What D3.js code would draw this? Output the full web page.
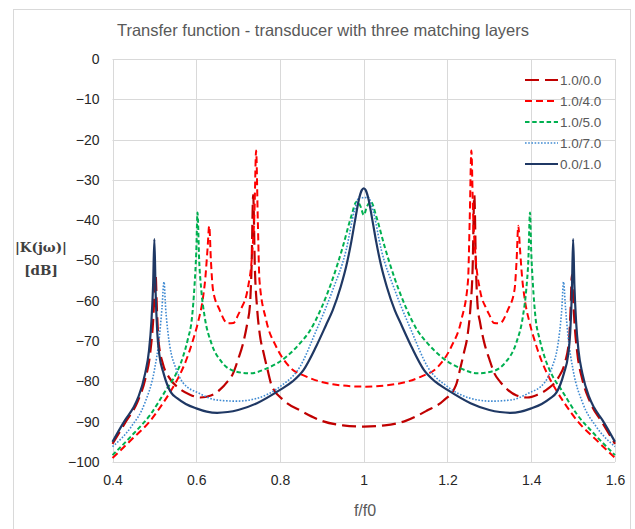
<!DOCTYPE html>
<html>
<head>
<meta charset="utf-8">
<script src="https://cdn.jsdelivr.net/npm/d3@7"></script>
<style>
  html, body { margin: 0; padding: 0; background: #ffffff; }
  svg { display: block; }
</style>
</head>
<body>
<svg id="chart" width="635" height="529"></svg>
<script>
// ---------------- data ----------------
const title = "Transfer function - transducer with three matching layers";
const xTicks = [0.4, 0.6, 0.8, 1.0, 1.2, 1.4, 1.6];
const xTickLabels = ["0.4", "0.6", "0.8", "1", "1.2", "1.4", "1.6"];
const yTicks = [0, -10, -20, -30, -40, -50, -60, -70, -80, -90, -100];
const yTickLabels = ["0", "\u221210", "\u221220", "\u221230", "\u221240", "\u221250", "\u221260", "\u221270", "\u221280", "\u221290", "\u2212100"];
const seriesNames = ["1.0/0.0", "1.0/4.0", "1.0/5.0", "1.0/7.0", "0.0/1.0"];

// 1.0/0.0
const f_10_00 = [0.40,0.43,0.46,0.478,0.49,0.497,0.501,0.503,0.506,0.51,0.52,0.535,0.56,0.585,0.61,0.635,0.656,0.675,0.688,0.70,0.712,0.722,0.728,0.732,0.736,0.740,0.745,0.752,0.761,0.770,0.78,0.81,0.85,0.90,0.95,1.00,
  1.05,1.10,1.15,1.19,1.22,1.23,1.239,1.248,1.255,1.26,1.264,1.268,1.272,1.278,1.288,1.30,1.312,1.325,1.344,1.365,1.39,1.415,1.44,1.465,1.48,1.49,1.494,1.497,1.499,1.503,1.51,1.522,1.54,1.57,1.60];
const db_10_00 = [-95.5,-90.3,-85.0,-79.5,-73.0,-65.0,-57.0,-53.6,-62.0,-70.0,-75.5,-79.0,-81.8,-83.3,-84.0,-83.5,-82.1,-80.0,-78.0,-74.5,-70.5,-65.5,-61.4,-52.0,-33.7,-52.0,-61.4,-68.5,-73.0,-77.0,-81.0,-84.8,-87.3,-89.8,-90.9,-91.2,
  -90.9,-89.8,-87.3,-84.8,-81.0,-77.0,-73.0,-68.5,-61.4,-52.0,-33.7,-52.0,-61.4,-65.5,-70.5,-74.5,-78.0,-80.0,-82.1,-83.5,-84.0,-83.3,-81.8,-79.0,-75.5,-70.0,-62.0,-53.6,-57.0,-65.0,-73.0,-79.5,-85.0,-90.3,-95.5];

// 1.0/4.0
const f_10_40 = [0.40,0.445,0.49,0.52,0.541,0.56,0.575,0.59,0.605,0.615,0.622,0.627,0.631,0.635,0.64,0.656,0.675,0.689,0.70,0.707,0.723,0.733,0.739,0.743,0.747,0.751,0.767,0.791,0.823,0.863,0.926,1.00,
  1.074,1.137,1.177,1.209,1.233,1.249,1.253,1.257,1.261,1.267,1.277,1.293,1.30,1.311,1.325,1.344,1.36,1.365,1.369,1.373,1.378,1.385,1.395,1.41,1.425,1.44,1.459,1.48,1.51,1.555,1.60];
const db_10_40 = [-99.0,-94.5,-89.8,-85.5,-82.1,-78.5,-75.0,-70.5,-65.0,-60.0,-54.0,-47.0,-41.4,-50.0,-57.3,-62.3,-65.6,-65.5,-63.5,-62.0,-57.0,-49.0,-38.0,-22.7,-40.0,-55.0,-64.8,-71.4,-76.4,-78.8,-80.7,-81.3,
  -80.7,-78.8,-76.4,-71.4,-64.8,-55.0,-40.0,-22.7,-38.0,-49.0,-57.0,-62.0,-63.5,-65.5,-65.6,-62.3,-57.3,-50.0,-41.4,-47.0,-54.0,-60.0,-65.0,-70.5,-75.0,-78.5,-82.1,-85.5,-89.8,-94.5,-99.0];

// 1.0/5.0
const f_10_50 = [0.40,0.45,0.49,0.528,0.55,0.568,0.58,0.59,0.596,0.60,0.603,0.607,0.612,0.62,0.636,0.66,0.696,0.728,0.768,0.815,0.848,0.871,0.90,0.926,0.95,0.97,0.983,0.992,1.00,
  1.008,1.017,1.03,1.05,1.074,1.10,1.129,1.152,1.185,1.232,1.272,1.304,1.34,1.364,1.38,1.388,1.393,1.397,1.40,1.404,1.41,1.42,1.432,1.45,1.472,1.51,1.55,1.60];
const db_10_50 = [-98.3,-93.0,-88.3,-82.1,-78.5,-74.0,-69.5,-64.0,-56.0,-48.0,-38.1,-50.0,-57.3,-63.9,-70.5,-75.1,-77.6,-78.0,-76.8,-73.9,-70.5,-67.5,-61.5,-54.5,-46.6,-39.1,-35.4,-36.5,-38.7,
  -36.5,-35.4,-39.1,-46.6,-54.5,-61.5,-67.5,-70.5,-73.9,-76.8,-78.0,-77.6,-75.1,-70.5,-63.9,-57.3,-50.0,-38.1,-48.0,-56.0,-64.0,-69.5,-74.0,-78.5,-82.1,-88.3,-93.0,-98.3];

// 1.0/7.0
const f_10_70 = [0.40,0.445,0.477,0.50,0.512,0.518,0.523,0.527,0.532,0.54,0.548,0.568,0.608,0.648,0.696,0.745,0.80,0.848,0.886,0.926,0.958,0.978,0.99,1.00,
  1.01,1.022,1.042,1.074,1.114,1.152,1.20,1.255,1.304,1.352,1.392,1.432,1.452,1.46,1.468,1.473,1.477,1.482,1.488,1.50,1.523,1.555,1.60];
const db_10_70 = [-96.2,-91.2,-85.4,-77.2,-68.9,-62.0,-55.3,-62.0,-67.5,-73.0,-75.8,-80.3,-83.0,-84.6,-84.9,-84.2,-81.3,-76.3,-67.5,-57.3,-47.4,-37.5,-34.2,-34.5,
  -34.2,-37.5,-47.4,-57.3,-67.5,-76.3,-81.3,-84.2,-84.9,-84.6,-83.0,-80.3,-75.8,-73.0,-67.5,-62.0,-55.3,-62.0,-68.9,-77.2,-85.4,-91.2,-96.2];

// 0.0/1.0
const f_00_10 = [0.40,0.43,0.45,0.462,0.478,0.487,0.493,0.497,0.50,0.503,0.507,0.512,0.522,0.54,0.555,0.575,0.60,0.625,0.65,0.675,0.70,0.745,0.80,0.83,0.856,0.886,0.91,0.926,0.945,0.958,0.97,0.978,0.99,0.995,1.00,
  1.005,1.01,1.022,1.03,1.042,1.055,1.074,1.09,1.114,1.144,1.17,1.20,1.255,1.30,1.325,1.35,1.375,1.40,1.425,1.445,1.46,1.478,1.488,1.493,1.497,1.50,1.503,1.507,1.513,1.522,1.538,1.55,1.57,1.60];
const db_00_10 = [-95.0,-89.6,-86.5,-83.8,-78.0,-72.5,-65.0,-56.0,-44.7,-58.0,-68.0,-73.5,-78.0,-82.8,-84.2,-85.6,-86.7,-87.5,-87.8,-87.6,-87.1,-85.4,-82.1,-80.0,-77.2,-71.4,-66.0,-62.3,-56.5,-51.5,-45.5,-40.8,-34.2,-32.6,-32.1,
  -32.6,-34.2,-40.8,-45.5,-51.5,-56.5,-62.3,-66.0,-71.4,-77.2,-80.0,-82.1,-85.4,-87.1,-87.6,-87.8,-87.5,-86.7,-85.6,-84.2,-82.8,-78.0,-73.5,-68.0,-58.0,-44.7,-56.0,-65.0,-72.5,-78.0,-83.8,-86.5,-89.6,-95.0];

const seriesF = [f_10_00, f_10_40, f_10_50, f_10_70, f_00_10];
const seriesDb = [db_10_00, db_10_40, db_10_50, db_10_70, db_00_10];

// ---------------- styles ----------------
const styles = [
  { color: "#C00000", width: 2.2, dash: "14,6" },
  { color: "#FF0000", width: 2.0, dash: "7,4" },
  { color: "#00B050", width: 2.0, dash: "4.5,2.7" },
  { color: "#3F8AD2", width: 1.6, dash: "1.6,1.6" },
  { color: "#1F3864", width: 2.2, dash: null }
];

const svg = d3.select("#chart");
const plot = { left: 112.5, right: 615, top: 59, bottom: 462 };

// outer chart border
svg.append("rect")
  .attr("x", 13.5).attr("y", 9.5).attr("width", 617).attr("height", 530)
  .attr("fill", "#ffffff").attr("stroke", "#d9d9d9").attr("stroke-width", 1);

const x = d3.scaleLinear().domain([0.4, 1.6]).range([plot.left, plot.right]);
const y = d3.scaleLinear().domain([-100, 0]).range([plot.bottom, plot.top]);

// gridlines
const grid = svg.append("g");
grid.selectAll("line.h").data(yTicks).join("line")
  .attr("x1", plot.left).attr("x2", plot.right)
  .attr("y1", d => Math.round(y(d)) + 0.5).attr("y2", d => Math.round(y(d)) + 0.5)
  .attr("stroke", "#d9d9d9").attr("stroke-width", 1);
grid.selectAll("line.v").data(xTicks).join("line")
  .attr("y1", plot.top).attr("y2", plot.bottom)
  .attr("x1", d => Math.round(x(d)) + 0.5).attr("x2", d => Math.round(x(d)) + 0.5)
  .attr("stroke", "#d9d9d9").attr("stroke-width", 1);

// axes (labels only, via d3 axes)
const yAxis = d3.axisLeft(y).tickValues(yTicks).tickSize(0).tickPadding(0)
  .tickFormat((d, i) => yTickLabels[i]);
const gy = svg.append("g").attr("transform", `translate(${plot.left - 13},0)`).call(yAxis);
gy.select(".domain").remove();
gy.selectAll("text").attr("font-family", "'Liberation Sans', Arial, sans-serif")
  .attr("font-size", 14).attr("fill", "#262626");

const xAxis = d3.axisBottom(x).tickValues(xTicks).tickSize(0).tickPadding(0)
  .tickFormat((d, i) => xTickLabels[i]);
const gx = svg.append("g").attr("transform", `translate(0,${plot.bottom + 13})`).call(xAxis);
gx.select(".domain").remove();
gx.selectAll("text").attr("font-family", "'Liberation Sans', Arial, sans-serif")
  .attr("font-size", 14).attr("fill", "#262626");

// series
const line = d3.line().x(d => x(d[0])).y(d => y(d[1])).curve(d3.curveMonotoneX);
const gLines = svg.append("g");
seriesF.forEach((fs, i) => {
  const pts = fs.map((f, k) => [f, seriesDb[i][k]]);
  const p = gLines.append("path").datum(pts)
    .attr("d", line).attr("fill", "none")
    .attr("stroke", styles[i].color).attr("stroke-width", styles[i].width)
    .attr("stroke-linejoin", "round");
  if (styles[i].dash) p.attr("stroke-dasharray", styles[i].dash);
});

// title
svg.append("text").attr("x", 323).attr("y", 36).attr("text-anchor", "middle")
  .attr("font-family", "'Liberation Sans', Arial, sans-serif").attr("font-size", 16.5)
  .attr("fill", "#595959").text(title);

// x axis title
svg.append("text").attr("x", 365).attr("y", 516).attr("text-anchor", "middle")
  .attr("font-family", "'Liberation Sans', Arial, sans-serif").attr("font-size", 16)
  .attr("fill", "#595959").text("f/f0");

// y axis title
const yt = svg.append("text").attr("text-anchor", "middle")
  .attr("font-family", "'DejaVu Serif', 'Liberation Serif', serif").attr("font-weight", "bold")
  .attr("font-size", 13.5).attr("fill", "#404040");
yt.append("tspan").attr("x", 41).attr("y", 252).text("|K(jω)|");
yt.append("tspan").attr("x", 41).attr("y", 275).text("[dB]");

// legend
const legend = svg.append("g");
const legY = [80, 101, 122, 143, 164];
seriesNames.forEach((name, i) => {
  const g = legend.append("g").attr("transform", `translate(0,${legY[i]})`);
  const l = g.append("line").attr("x1", 525).attr("x2", 558).attr("y1", 0).attr("y2", 0)
    .attr("stroke", styles[i].color).attr("stroke-width", styles[i].width);
  if (styles[i].dash) l.attr("stroke-dasharray", styles[i].dash);
  g.append("text").attr("x", 560).attr("y", 0).attr("dy", "0.35em")
    .attr("font-family", "'Liberation Sans', Arial, sans-serif").attr("font-size", 13.5)
    .attr("fill", "#595959").text(name);
});
</script>
</body>
</html>
